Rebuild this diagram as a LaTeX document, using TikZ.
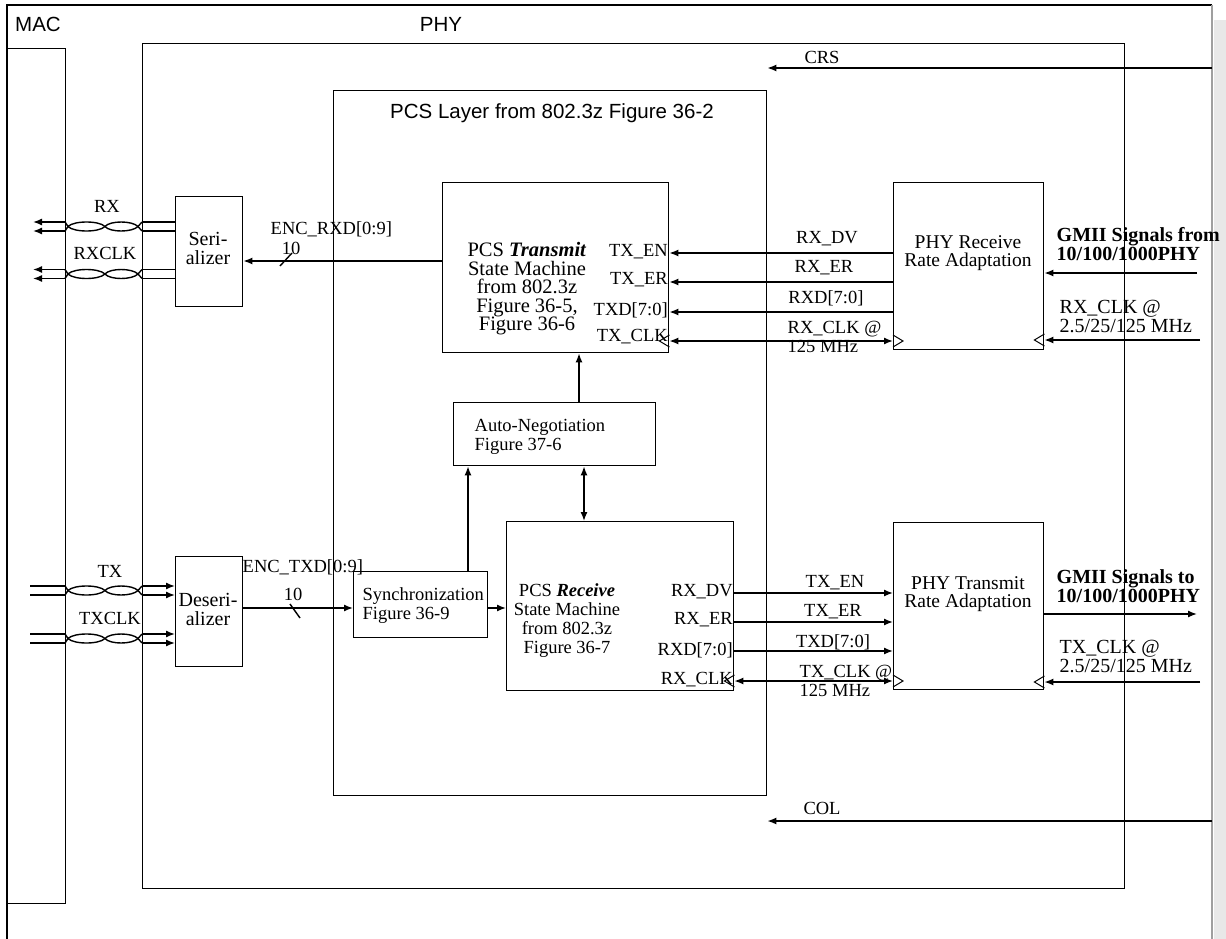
\documentclass[tikz,border=0pt]{standalone}
\usepackage{fontspec}
\setmainfont{Liberation Serif}
\setsansfont{Liberation Sans}
\usetikzlibrary{arrows.meta, calc}
\newcommand{\sersz}{\fontsize{18.5}{19}\selectfont}
\newcommand{\bigsz}{\fontsize{20.5}{18.5}\selectfont}
\newcommand{\sanssz}{\fontsize{20.5}{22}\sffamily\selectfont}
\newcommand{\gmiisz}{\fontsize{20}{17}\bfseries\selectfont}

\begin{document}
\begin{tikzpicture}[
  x=1pt, y=-1pt, line width=1.4pt,
  >={Latex[length=9pt,width=7pt]},
  blk/.style={draw, inner sep=0pt, anchor=north west},
  lbl/.style={font=\sersz, inner sep=1pt},
  ttl/.style={font=\sanssz, inner sep=1pt},
  clkL/.pic={\draw[line width=1pt] (0,-6) -- (-10,0) -- (0,6);},
  clkR/.pic={\draw[line width=1pt] (0,-6) -- (10,0) -- (0,6);}
]
  \useasboundingbox (0,0) rectangle (1226,939);
  \fill[gray!18] (1214,20) rectangle (1226,939);
  \draw (7,939) -- (7,5) -- (1212,5);
  \draw[gray!75, line width=2.5pt] (1212,5) -- (1212,939);

  \node[ttl] (lmac) at (38,24) {MAC};
  \node[ttl] (lphy) at (441,24) {PHY};

  % boxes
  \node[blk, minimum width=58, minimum height=855] (mac) at (7,48) {};
  \node[blk, minimum width=982, minimum height=845] (phy) at (142,43) {};
  \node[blk, minimum width=433, minimum height=705] (pcs) at (333,90) {};
  \node[blk, minimum width=67, minimum height=110] (ser) at (175,196) {};
  \node[blk, minimum width=67, minimum height=110] (des) at (175,556) {};
  \node[blk, minimum width=226, minimum height=170] (tx) at (442,182) {};
  \node[blk, minimum width=202, minimum height=63] (an) at (453,402) {};
  \node[blk, minimum width=134, minimum height=66] (sync) at (353,571) {};
  \node[blk, minimum width=227, minimum height=169] (rx) at (506,521) {};
  \node[blk, minimum width=150, minimum height=167] (rra) at (893,182) {};
  \node[blk, minimum width=150, minimum height=167] (rta) at (893,522) {};

  % box texts
  \node[ttl] (lpcs) at (552,113) {PCS Layer from 802.3z Figure 36-2};
  \node[lbl, align=center, font=\fontsize{20}{19}\selectfont] (lser) at (208,248) {Seri-\\alizer};
  \node[lbl, align=center, font=\fontsize{20}{19}\selectfont] (ldes) at (208,609) {Deseri-\\alizer};
  \node[lbl, align=center, font=\bigsz] (ltx) at (527,289)
    {PCS \textbf{\textit{Transmit}}\\State Machine\\from 802.3z\\Figure 36-5,\\Figure 36-6};
  \node[lbl, align=center] (lrx) at (567,621)
    {PCS \textbf{\textit{Receive}}\\State Machine\\from 802.3z\\Figure 36-7};
  \node[lbl, align=left, anchor=west] (lan) at (473,437) {Auto-Negotiation\\Figure 37-6};
  \node[lbl, align=left, anchor=west] (lsync) at (361,606) {Synchronization\\Figure 36-9};
  \node[lbl, align=center, font=\fontsize{19.5}{17.5}\selectfont] (lrra) at (968,253) {PHY Receive\\Rate Adaptation};
  \node[lbl, align=center, font=\fontsize{19.5}{17.5}\selectfont] (lrta) at (968,594) {PHY Transmit\\Rate Adaptation};

  % row coordinates
  \coordinate (r1) at (0,253);
  \coordinate (r2) at (0,282);
  \coordinate (r3) at (0,312);
  \coordinate (r4) at (0,341);
  \coordinate (t1) at (0,593);
  \coordinate (t2) at (0,622);
  \coordinate (t3) at (0,651);
  \coordinate (t4) at (0,681);
  \coordinate (encr) at (0,261);
  \coordinate (enct) at (0,608);
  \coordinate (crsin) at (1212,68);
  \coordinate (colin) at (1212,821);
  \coordinate (gin) at (1197,273);
  \coordinate (rclk) at (1200,340);
  \coordinate (gout) at (1197,614);
  \coordinate (tclk) at (1200,682);

  % twisted pairs
  \foreach \c in {226.5, 274, 590.5, 638.5} {
    \draw (65,\c-4.5) -- (68,\c) .. controls (74,\c-6) and (99,\c-6) .. (105,\c)
      .. controls (110,\c-6) and (132,\c-6) .. (138,\c) -- (142,\c-4.5);
    \draw (65,\c+4.5) -- (68,\c) .. controls (74,\c+6) and (99,\c+6) .. (105,\c)
      .. controls (110,\c+6) and (132,\c+6) .. (138,\c) -- (142,\c+4.5);
  }
  \foreach \c in {226.5, 274} {
    \draw[->] (65,\c-4.5) -- (33,\c-4.5);
    \draw[->] (65,\c+4.5) -- (33,\c+4.5);
    \draw (142,\c-4.5) -- (ser.west |- 0,\c-4.5);
    \draw (142,\c+4.5) -- (ser.west |- 0,\c+4.5);
  }
  \foreach \c in {590.5, 638.5} {
    \draw (30,\c-4.5) -- (65,\c-4.5);
    \draw (30,\c+4.5) -- (65,\c+4.5);
    \draw[->] (142,\c-4.5) -- (des.west |- 0,\c-4.5);
    \draw[->] (142,\c+4.5) -- (des.west |- 0,\c+4.5);
  }
  \node[lbl] (lrxp) at (107,206) {RX};
  \node[lbl] (lrxclk) at (105,253) {RXCLK};
  \node[lbl] (ltxp) at (110,571) {TX};
  \node[lbl] (ltxclk) at (110,618) {TXCLK};

  % encoded data
  \draw[->] (tx.west |- encr) -- (ser.east |- encr);
  \draw (280,266) -- (292,253);
  \node[lbl, anchor=west] (lencr) at (269,229) {ENC\_RXD[0:9]};
  \node[lbl] (lnr) at (291,248) {10};
  \draw[->] (des.east |- enct) -- (sync.west |- enct);
  \draw (290,604) -- (300,618);
  \node[lbl, anchor=west] (lenct) at (241,567) {ENC\_TXD[0:9]};
  \node[lbl] (lnt) at (293,594) {10};
  \draw[->] (sync.east |- enct) -- (rx.west |- enct);

  % auto-negotiation
  \draw[->] (sync.north -| 468,0) -- (an.south -| 468,0);
  \draw[->] (an.north -| 579,0) -- (tx.south -| 579,0);
  \draw[<->] (an.south -| 584,0) -- (rx.north -| 584,0);

  % CRS / COL
  \draw[->] (crsin) -- (pcs.east |- crsin);
  \node[lbl] (lcrs) at (822,57) {CRS};
  \draw[->] (colin) -- (pcs.east |- colin);
  \node[lbl] (lcol) at (822,808) {COL};

  % receive path signals
  \draw[->] (rra.west |- r1) -- (tx.east |- r1);
  \draw[->] (rra.west |- r2) -- (tx.east |- r2);
  \draw[->] (rra.west |- r3) -- (tx.east |- r3);
  \draw[<->] (rra.west |- r4) -- (tx.east |- r4);
  \pic at (tx.east |- r4) {clkL};
  \pic at (rra.west |- r4) {clkR};
  \node[lbl, anchor=east] (ptxen) at ($(tx.east |- r1)+(0,-1)$) {TX\_EN};
  \node[lbl, anchor=east] (ptxer) at ($(tx.east |- r2)+(0,-2)$) {TX\_ER};
  \node[lbl, anchor=east] (ptxd) at ($(tx.east |- r3)+(0,-2)$) {TXD[7:0]};
  \node[lbl, anchor=east] (ptxclk) at ($(tx.east |- r4)+(0,-4)$) {TX\_CLK};
  \node[lbl] (srxdv) at (827,239) {RX\_DV};
  \node[lbl] (srxer) at (824,268) {RX\_ER};
  \node[lbl] (srxd) at (826,298) {RXD[7:0]};
  \node[lbl, anchor=west, align=left] (srxclk) at (786,336.5) {RX\_CLK @\\125 MHz};

  % transmit path signals
  \draw[->] (rx.east |- t1) -- (rta.west |- t1);
  \draw[->] (rx.east |- t2) -- (rta.west |- t2);
  \draw[->] (rx.east |- t3) -- (rta.west |- t3);
  \draw[<->] (rx.east |- t4) -- (rta.west |- t4);
  \pic at (rx.east |- t4) {clkL};
  \pic at (rta.west |- t4) {clkR};
  \node[lbl, anchor=east] (prxdv) at ($(rx.east |- t1)+(0,-1)$) {RX\_DV};
  \node[lbl, anchor=east] (prxer) at ($(rx.east |- t2)+(0,-2)$) {RX\_ER};
  \node[lbl, anchor=east] (prxd) at ($(rx.east |- t3)+(0,-1)$) {RXD[7:0]};
  \node[lbl, anchor=east] (prxclk) at ($(rx.east |- t4)+(0,-1)$) {RX\_CLK};
  \node[lbl] (stxen) at (835,583) {TX\_EN};
  \node[lbl] (stxer) at (833,612) {TX\_ER};
  \node[lbl] (stxd) at (833,642) {TXD[7:0]};
  \node[lbl, anchor=west, align=left] (stxclk) at (798,680.5) {TX\_CLK @\\125 MHz};

  % GMII side
  \draw[->] (gin) -- (rra.east |- gin);
  \draw[->] (rclk) -- (rra.east |- rclk);
  \pic at (rra.east |- rclk) {clkL};
  \node[lbl, anchor=west, align=left, font=\gmiisz] (lgin) at (1055,244) {GMII Signals from\\10/100/1000PHY};
  \node[lbl, anchor=west, align=left, font=\fontsize{20}{19}\selectfont] (lrclk) at (1058,316) {RX\_CLK @\\2.5/25/125 MHz};
  \draw[->] (rta.east |- gout) -- (gout);
  \draw[->] (tclk) -- (rta.east |- tclk);
  \pic at (rta.east |- tclk) {clkL};
  \node[lbl, anchor=west, align=left, font=\gmiisz] (lgout) at (1055,586) {GMII Signals to\\10/100/1000PHY};
  \node[lbl, anchor=west, align=left, font=\fontsize{20}{19}\selectfont] (ltclk) at (1058,656) {TX\_CLK @\\2.5/25/125 MHz};
\end{tikzpicture}
\end{document}
